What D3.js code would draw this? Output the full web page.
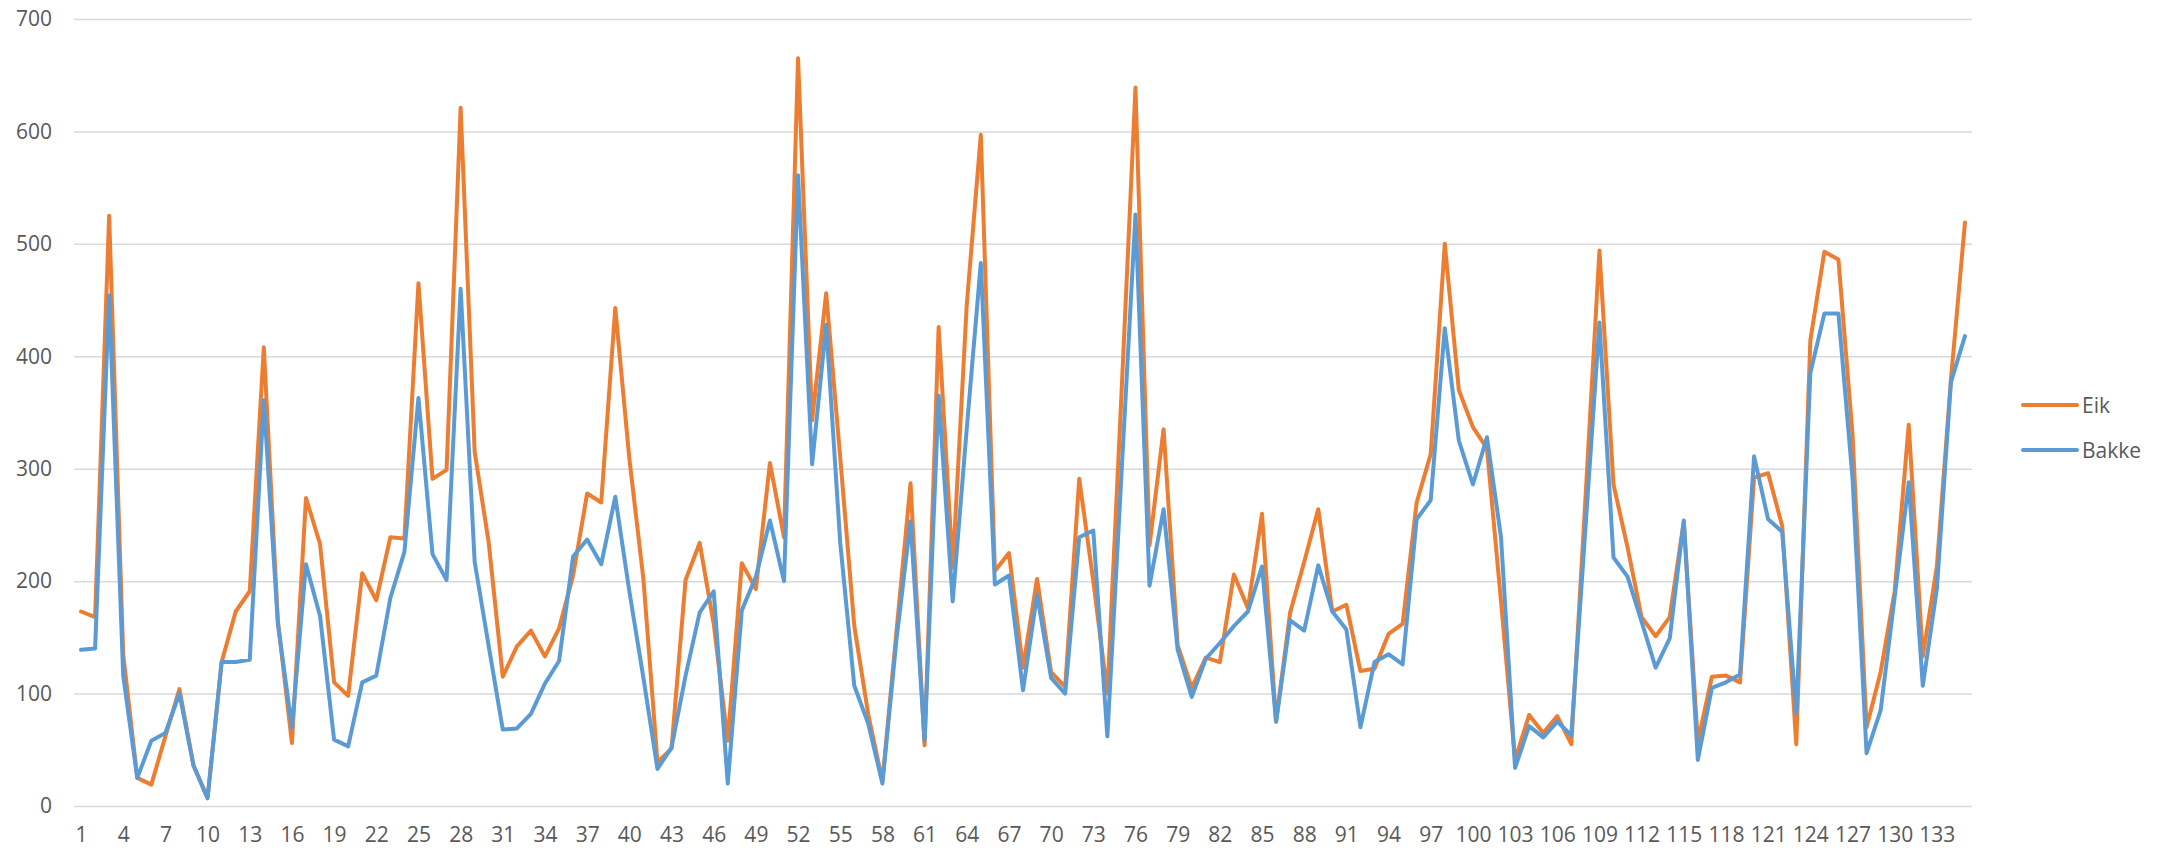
<!DOCTYPE html>
<html>
<head>
<meta charset="utf-8">
<script src="https://cdn.jsdelivr.net/npm/d3@7"></script>
<style>
  html, body { margin: 0; padding: 0; background: #ffffff; }
  svg { display: block; }
  text { font-family: "Open Sans", "Noto Sans", sans-serif; fill: #595959; }
</style>
</head>
<body>
<svg id="chart" width="2170" height="850"></svg>
<script>
const categories = d3.range(1, 136);
const seriesNames = ["Eik", "Bakke"];
const eik = [
  173, 168, 525, 135, 25, 19, 62, 104, 36, 7,
  128, 173, 191, 408, 165, 56, 274, 233, 110, 98,
  207, 183, 239, 238, 465, 291, 299, 621, 315, 234,
  115, 142, 156, 133, 158, 205, 278, 270, 443, 309,
  202, 39, 51, 201, 234, 162, 58, 216, 193, 305,
  239, 665, 343, 456, 310, 160, 81, 22, 155, 287,
  54, 426, 212, 446, 597, 209, 225, 123, 202, 119,
  106, 291, 200, 100, 365, 639, 232, 335, 143, 105,
  132, 128, 206, 176, 260, 75, 172, 217, 264, 173,
  179, 120, 122, 153, 162, 270, 313, 500, 370, 337,
  318, 182, 41, 81, 65, 80, 55, 272, 494, 286,
  230, 168, 151, 168, 253, 57, 115, 116, 110, 292,
  296, 249, 55, 414, 493, 486, 331, 70, 119, 191,
  339, 133, 213, 379, 519
];
const bakke = [
  139, 140, 454, 116, 25, 58, 65, 100, 36, 7,
  128, 128, 130, 361, 162, 70, 215, 169, 59, 53,
  110, 116, 185, 226, 363, 224, 201, 460, 217, 142,
  68, 69, 82, 109, 129, 222, 237, 215, 275, 191,
  114, 33, 52, 116, 172, 191, 20, 174, 204, 254,
  200, 561, 304, 428, 234, 107, 73, 20, 148, 253,
  58, 365, 182, 336, 483, 197, 205, 103, 188, 114,
  100, 239, 245, 62, 294, 526, 196, 264, 139, 97,
  131, 145, 160, 173, 213, 75, 165, 156, 214, 173,
  157, 70, 128, 135, 126, 255, 272, 425, 325, 286,
  328, 239, 34, 71, 61, 75, 63, 246, 430, 221,
  204, 164, 123, 149, 254, 41, 105, 110, 117, 311,
  255, 244, 82, 385, 438, 438, 292, 47, 85, 186,
  288, 107, 193, 377, 418
];
const yTicks = [0, 100, 200, 300, 400, 500, 600, 700];
const xTickLabels = categories.filter((d, i) => i % 3 === 0);
const colors = ["#ED7D31", "#5B9BD5"];

const svg = d3.select("#chart");
const plotLeft = 74, plotRight = 1972, plotTop = 19, plotBottom = 806;

const x = d3.scalePoint().domain(categories).range([plotLeft, plotRight]).padding(0.5);
const y = d3.scaleLinear().domain([0, 700]).range([plotBottom, plotTop]);

// gridlines + y labels
const yAxis = d3.axisLeft(y).tickValues(yTicks).tickSize(-(plotRight - plotLeft)).tickPadding(22).tickFormat(d3.format("d"));
const gy = svg.append("g").attr("transform", `translate(${plotLeft},0)`).call(yAxis);
gy.select(".domain").remove();
gy.selectAll(".tick line").attr("stroke", "#d9d9d9").attr("stroke-width", 1.5);
gy.selectAll(".tick text").attr("font-size", 21).attr("fill", "#595959")
  .style("font-family", '"Open Sans", sans-serif');

// x axis labels
const xAxis = d3.axisBottom(x).tickValues(xTickLabels).tickSize(0).tickPadding(21);
const gx = svg.append("g").attr("transform", `translate(0,${plotBottom})`).call(xAxis);
gx.select(".domain").remove();
gx.selectAll(".tick text").attr("font-size", 21).attr("fill", "#595959")
  .style("font-family", '"Open Sans", sans-serif');

// series lines
const line = d3.line().x((d, i) => x(categories[i])).y(d => y(d));
[eik, bakke].forEach((vals, k) => {
  svg.append("path")
    .datum(vals)
    .attr("d", line)
    .attr("fill", "none")
    .attr("stroke", colors[k])
    .attr("stroke-width", 4)
    .attr("stroke-linejoin", "round")
    .attr("stroke-linecap", "round");
});

// legend
const legend = svg.append("g");
seriesNames.forEach((name, k) => {
  const ly = 405 + k * 45;
  legend.append("line")
    .attr("x1", 2023).attr("x2", 2077)
    .attr("y1", ly).attr("y2", ly)
    .attr("stroke", colors[k]).attr("stroke-width", 4)
    .attr("stroke-linecap", "round");
  legend.append("text")
    .attr("x", 2082).attr("y", ly)
    .attr("dominant-baseline", "central")
    .attr("font-size", 21)
    .text(name);
});
</script>
</body>
</html>
